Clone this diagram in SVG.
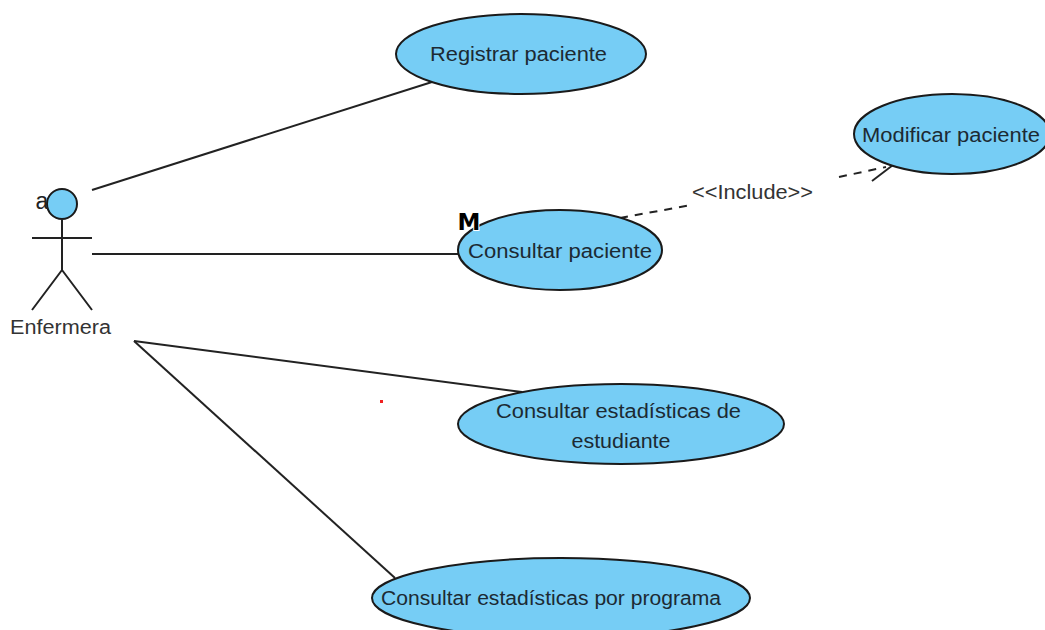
<svg xmlns="http://www.w3.org/2000/svg" width="1045" height="630" viewBox="0 0 1045 630">
<style>
text{font-family:"Liberation Sans",Arial,sans-serif;font-size:20px;fill:#1c2a33;text-anchor:middle}
.uc{fill:#76cdf5;stroke:#1a1a1a;stroke-width:2}
.l{fill:none;stroke:#222;stroke-width:2}
.d{fill:none;stroke:#222;stroke-width:2;stroke-dasharray:8 7}
.blk{fill:#333}
.mark{font-family:"DejaVu Sans",sans-serif;font-weight:bold;font-size:23px;fill:#000;stroke:#fff;stroke-width:2;paint-order:stroke}
</style>
<rect width="1045" height="630" fill="#fff"/>
<g id="connectors">
<path class="l" d="M92 190L432 82"/>
<path class="l" d="M92 254H458"/>
<path class="l" d="M134 341L522 392"/>
<path class="l" d="M134 341L395 578"/>
<path class="d" d="M620 218L691 205"/>
<path class="d" d="M839 177L886 167"/>
<path class="l" d="M872 181L893 165"/>
<rect x="380" y="400" width="3" height="3" fill="#f02020"/>
</g>
<g id="actor">
<circle class="uc" cx="62" cy="204" r="15"/>
<path class="l" d="M62 219V270M32 238H92M62 270L32 310M62 270L92 310"/>
<text x="42" y="209" style="font-size:23px;fill:#222">a</text>
<text class="blk" x="60.500" y="334" textLength="101" lengthAdjust="spacingAndGlyphs">Enfermera</text>
</g>
<g id="uc1"><ellipse class="uc" cx="521" cy="54" rx="125" ry="40"/><text x="518.500" y="61" textLength="177" lengthAdjust="spacingAndGlyphs">Registrar paciente</text></g>
<g id="uc2"><ellipse class="uc" cx="560" cy="250" rx="102" ry="40"/><text x="560" y="258" textLength="184" lengthAdjust="spacingAndGlyphs">Consultar paciente</text>
<text class="mark" x="469" y="230">M</text></g>
<g id="uc3"><ellipse class="uc" cx="952" cy="134" rx="98" ry="40"/><text x="951" y="142" textLength="178" lengthAdjust="spacingAndGlyphs">Modificar paciente</text></g>
<g id="uc4"><ellipse class="uc" cx="621" cy="424" rx="163" ry="40"/><text x="618.500" y="418" textLength="245" lengthAdjust="spacingAndGlyphs">Consultar estadísticas de</text><text x="621" y="448" textLength="99" lengthAdjust="spacingAndGlyphs">estudiante</text></g>
<g id="uc5"><ellipse class="uc" cx="561" cy="598" rx="189" ry="40"/><text x="551" y="605" textLength="340" lengthAdjust="spacingAndGlyphs">Consultar estadísticas por programa</text></g>
<text id="inc" class="blk" x="752.500" y="199" textLength="121" lengthAdjust="spacingAndGlyphs">&lt;&lt;Include&gt;&gt;</text>
</svg>
